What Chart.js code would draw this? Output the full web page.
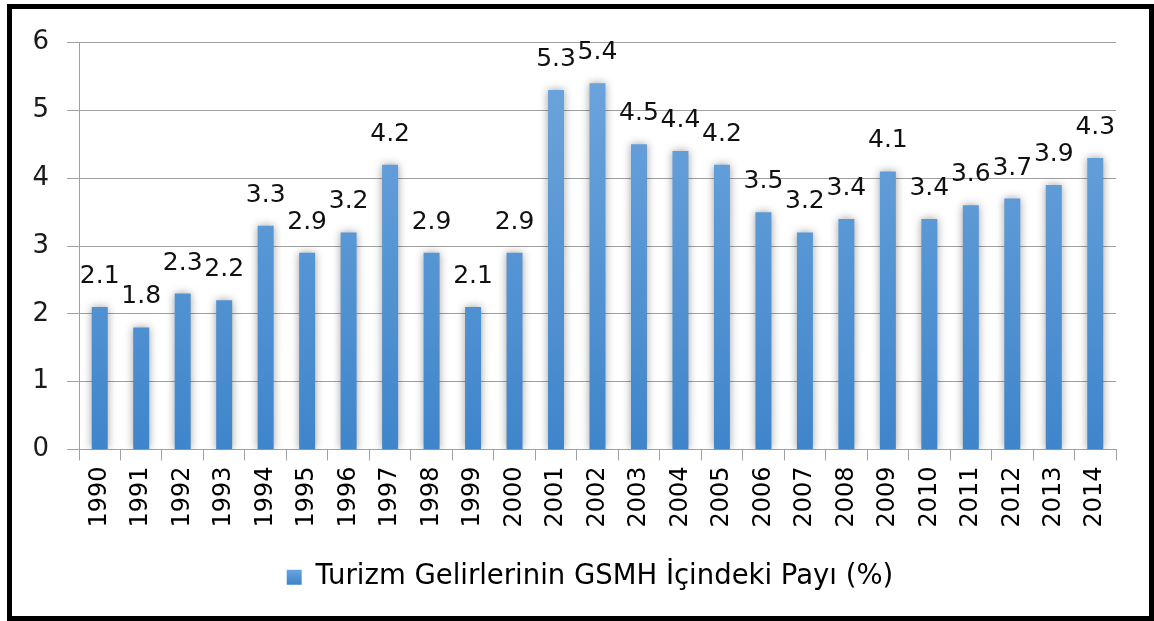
<!DOCTYPE html>
<html>
<head>
<meta charset="utf-8">
<script src="https://cdn.jsdelivr.net/npm/chart.js@4/dist/chart.umd.min.js"></script>
<style>
  html, body { margin: 0; padding: 0; background: #fff; width: 1154px; height: 621px; overflow: hidden; }
  #frame { position: absolute; left: 7px; top: 4px; width: 1147px; height: 617px; box-sizing: border-box; border: 5px solid #000; background: #fff; }
  canvas { display: block; }
</style>
</head>
<body>
<div id="frame"><canvas id="c" width="1137" height="607"></canvas></div>
<script>
const years = ["1990","1991","1992","1993","1994","1995","1996","1997","1998","1999","2000","2001","2002","2003","2004","2005","2006","2007","2008","2009","2010","2011","2012","2013","2014"];
const shareValues = [2.1, 1.8, 2.3, 2.2, 3.3, 2.9, 3.2, 4.2, 2.9, 2.1, 2.9, 5.3, 5.4, 4.5, 4.4, 4.2, 3.5, 3.2, 3.4, 4.1, 3.4, 3.6, 3.7, 3.9, 4.3];
const seriesName = "Turizm Gelirlerinin GSMH İçindeki Payı (%)";
const yTicks = [0, 1, 2, 3, 4, 5, 6];

const ctx = document.getElementById('c').getContext('2d');

function barGradient(context) {
  const chart = context.chart;
  const area = chart.chartArea;
  if (!area) return '#5b9bd5';
  const g = chart.ctx.createLinearGradient(0, area.top, 0, area.bottom);
  g.addColorStop(0, '#70a7de');
  g.addColorStop(1, '#3f85cb');
  return g;
}

const LEGEND_SHIFT = 26;
const legendShift = {
  id: 'legendShift',
  afterLayout(chart) { chart.$legendShifted = false; },
  beforeDraw(chart) {
    const lg = chart.legend;
    if (lg && !chart.$legendShifted) {
      lg.left += LEGEND_SHIFT;
      lg.right += LEGEND_SHIFT;
      (lg.legendHitBoxes || []).forEach(hb => { hb.left += LEGEND_SHIFT; });
      chart.$legendShifted = true;
    }
  }
};

const shadowPlugin = {
  id: 'barShadow',
  beforeDatasetsDraw(chart) {
    const c = chart.ctx;
    c.save();
    c.shadowColor = 'rgba(0,0,0,0.38)';
    c.shadowBlur = 9;
    c.shadowOffsetX = 0;
    c.shadowOffsetY = 0;
  },
  afterDatasetsDraw(chart) {
    chart.ctx.restore();
    const c = chart.ctx;
    const meta = chart.getDatasetMeta(0);
    const data = chart.data.datasets[0].data;
    c.save();
    c.font = '25px "DejaVu Sans"';
    c.fillStyle = '#111';
    c.textAlign = 'center';
    c.textBaseline = 'alphabetic';
    meta.data.forEach((el, i) => {
      c.fillText(String(data[i]), el.x, el.y - 24);
    });
    c.restore();
  }
};

new Chart(ctx, {
  type: 'bar',
  data: {
    labels: years,
    datasets: [{
      label: seriesName,
      data: shareValues,
      backgroundColor: barGradient,
      borderWidth: 0,
      barPercentage: 0.385,
      categoryPercentage: 1.0
    }]
  },
  options: {
    responsive: false,
    animation: false,
    layout: { padding: { left: 0, top: 32.5, right: 33, bottom: 15 } },
    plugins: {
      legend: {
        position: 'bottom',
        labels: {
          boxWidth: 15,
          boxHeight: 15,
          padding: 10,
          color: '#1a1a1a',
          font: { family: '"DejaVu Sans"', size: 27.5 },
          generateLabels(chart) {
            const ds = chart.data.datasets[0];
            const g = chart.ctx.createLinearGradient(0, 559, 0, 575);
            g.addColorStop(0, '#70a7de');
            g.addColorStop(1, '#3f85cb');
            return [{ text: ds.label, fillStyle: g, strokeStyle: 'rgba(0,0,0,0)', lineWidth: 0, datasetIndex: 0, hidden: false }];
          }
        }
      },
      tooltip: { enabled: false }
    },
    scales: {
      x: {
        offset: true,
        grid: { display: true, drawOnChartArea: false, drawTicks: true, tickLength: 11, color: '#a0a0a0', lineWidth: 1, offset: true },
        border: { display: true, color: '#a0a0a0', width: 1 },
        ticks: {
          autoSkip: false,
          minRotation: 90,
          maxRotation: 90,
          padding: 6,
          color: '#000',
          font: { family: '"DejaVu Sans"', size: 24 }
        },
        afterFit(scale) { scale.height = 104; }
      },
      y: {
        min: 0,
        max: 6,
        afterBuildTicks(scale) { scale.ticks = yTicks.map(v => ({ value: v })); },
        grid: { color: '#a0a0a0', lineWidth: 1, drawTicks: true, tickLength: 12 },
        border: { display: true, color: '#a0a0a0', width: 1 },
        ticks: {
          padding: 18,
          color: '#1a1a1a',
          font: { family: '"DejaVu Sans"', size: 26 }
        },
        afterFit(scale) { scale.width = 67; }
      }
    }
  },
  plugins: [shadowPlugin, legendShift]
});
</script>
</body>
</html>
